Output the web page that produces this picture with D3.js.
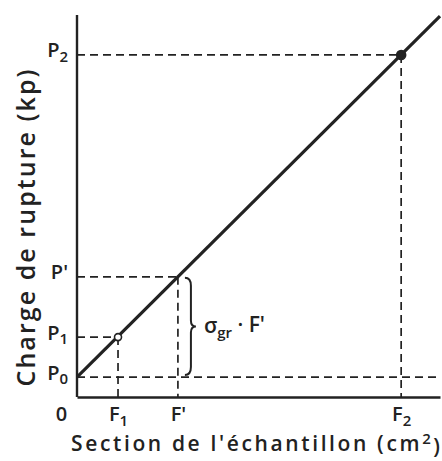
<!DOCTYPE html>
<html>
<head>
<meta charset="utf-8">
<script src="https://cdn.jsdelivr.net/npm/d3@7"></script>
<style>
  body { margin: 0; background: #fff; }
  text { font-family: "Open Sans", "DejaVu Sans", sans-serif; fill: #222; font-weight: 600; }
</style>
</head>
<body>
<div id="chart"></div>
<script>
// Values (arbitrary units, same scale on both axes)
var xTicks = [0, 1.13, 2.78, 8.93];
var xTickLabels = [["0", ""], ["F", "1"], ["F'", ""], ["F", "2"]];
var yTicks = [0.55, 1.65, 3.31, 9.42];
var yTickLabels = [["P", "0"], ["P", "1"], ["P'", ""], ["P", "2"]];

// the straight line P = P0 + sigma * F
var lineF = [0, 10];
var lineP = [0.55, 10.49];

// measured points : P1 open, P2 filled
var pointF = [1.13, 8.93];
var pointP = [1.65, 9.42];
var pointFilled = [false, true];

// dashed guides from the axes to the points
var guideF = [1.13, 2.78, 8.93];
var guideP = [1.65, 3.31, 9.42];

var svgWidth = 442;
var svgHeight = 461;

var margin = { top: 15, right: 2, bottom: 64, left: 77 };
var width = svgWidth - margin.left - margin.right;
var height = svgHeight - margin.top - margin.bottom;

var svg = d3
  .select("#chart")
  .append("svg")
  .attr("width", svgWidth)
  .attr("height", svgHeight);

var chartGroup = svg
  .append("g")
  .attr("transform", `translate(${margin.left}, ${margin.top})`);

var xScale = d3.scaleLinear().domain([0, 10]).range([0, width]);
var yScale = d3.scaleLinear().domain([0, 10.52]).range([height, 0]);

var ink = "#222";

// dashed guides
var guides = chartGroup.append("g")
  .attr("stroke", ink)
  .attr("stroke-width", 1.7)
  .attr("stroke-dasharray", "8,5")
  .attr("fill", "none");

// horizontal P0 line across the whole plot
guides.append("line")
  .attr("x1", 0).attr("x2", width)
  .attr("y1", yScale(yTicks[0])).attr("y2", yScale(yTicks[0]));

guideF.forEach(function (f, i) {
  guides.append("line")
    .attr("x1", 0).attr("x2", xScale(f))
    .attr("y1", yScale(guideP[i])).attr("y2", yScale(guideP[i]));
  guides.append("line")
    .attr("x1", xScale(f)).attr("x2", xScale(f))
    .attr("y1", yScale(guideP[i])).attr("y2", height);
});

// axes
var bottomAxis = d3.axisBottom(xScale).tickValues(xTicks).tickSize(0).tickFormat("");
var leftAxis = d3.axisLeft(yScale).tickValues(yTicks).tickSize(0).tickFormat("");

var xAxis = chartGroup.append("g")
  .attr("transform", `translate(0, ${height})`)
  .call(bottomAxis);
var yAxis = chartGroup.append("g").call(leftAxis);

[xAxis, yAxis].forEach(function (ax) {
  ax.select(".domain").attr("stroke", ink).attr("stroke-width", 2.4);
});
yAxis.select(".domain").attr("d", `M0,${height}V${yScale(10.52)}`);

// tick labels with subscripts
function subLabel(sel, labels) {
  sel.selectAll(".tick text").each(function (d, i) {
    var t = d3.select(this).style("font-size", "20px").attr("fill", ink);
    t.append("tspan").text(labels[i][0]);
    if (labels[i][1]) {
      t.append("tspan")
        .attr("dy", "0.3em")
        .style("font-size", "15px")
        .text(labels[i][1]);
    }
  });
}
subLabel(xAxis, xTickLabels);
subLabel(yAxis, yTickLabels);
xAxis.selectAll(".tick text").attr("y", 10);
xAxis.selectAll(".tick text").filter(function (d) { return d === 0; })
  .attr("x", -16);
yAxis.selectAll(".tick text").attr("x", -9).attr("dy", "0.1em");

// main line
chartGroup.append("line")
  .attr("x1", xScale(lineF[0])).attr("y1", yScale(lineP[0]))
  .attr("x2", xScale(lineF[1])).attr("y2", yScale(lineP[1]))
  .attr("stroke", ink)
  .attr("stroke-width", 3.2);

// points
chartGroup.selectAll("circle")
  .data(pointF)
  .enter()
  .append("circle")
  .attr("cx", (d) => xScale(d))
  .attr("cy", (d, i) => yScale(pointP[i]))
  .attr("r", (d, i) => (pointFilled[i] ? 4.5 : 3.5))
  .attr("fill", (d, i) => (pointFilled[i] ? ink : "#fff"))
  .attr("stroke", ink)
  .attr("stroke-width", 1.6);

// brace from P0 to P' next to F'
var bx = xScale(guideF[1]) + 7;
var bTop = yScale(guideP[1]) + 1;
var bBot = yScale(yTicks[0]) - 2;
var bMid = (bTop + bBot) / 2;
chartGroup.append("path")
  .attr("d", `M${bx},${bTop} Q${bx + 6},${bTop} ${bx + 6},${bTop + 8}` +
    ` L${bx + 6},${bMid - 6} Q${bx + 6},${bMid} ${bx + 11},${bMid}` +
    ` Q${bx + 6},${bMid} ${bx + 6},${bMid + 6}` +
    ` L${bx + 6},${bBot - 8} Q${bx + 6},${bBot} ${bx},${bBot}`)
  .attr("fill", "none")
  .attr("stroke", ink)
  .attr("stroke-width", 2);

var sigmaLabel = chartGroup.append("text")
  .attr("x", bx + 19)
  .attr("y", bMid + 7)
  .style("font-size", "21px");
sigmaLabel.append("tspan").text("σ");
sigmaLabel.append("tspan").attr("dy", "0.3em").style("font-size", "15px").text("gr");
sigmaLabel.append("tspan").attr("dy", "-0.3em").text(" · F'");

// axis titles
var xTitle = svg.append("text")
  .attr("x", 71)
  .attr("y", 451)
  .attr("textLength", 369)
  .attr("lengthAdjust", "spacing")
  .style("font-size", "21px");
xTitle.append("tspan").text("Section de l'échantillon (cm");
xTitle.append("tspan").attr("dy", "-0.45em").style("font-size", "15px").text("2");
xTitle.append("tspan").attr("dy", "0.45em").text(")");

svg.append("text")
  .attr("transform", "rotate(-90)")
  .attr("x", -228)
  .attr("y", 35)
  .attr("text-anchor", "middle")
  .attr("textLength", 317)
  .attr("lengthAdjust", "spacing")
  .style("font-size", "25px")
  .text("Charge de rupture (kp)");
</script>
</body>
</html>
